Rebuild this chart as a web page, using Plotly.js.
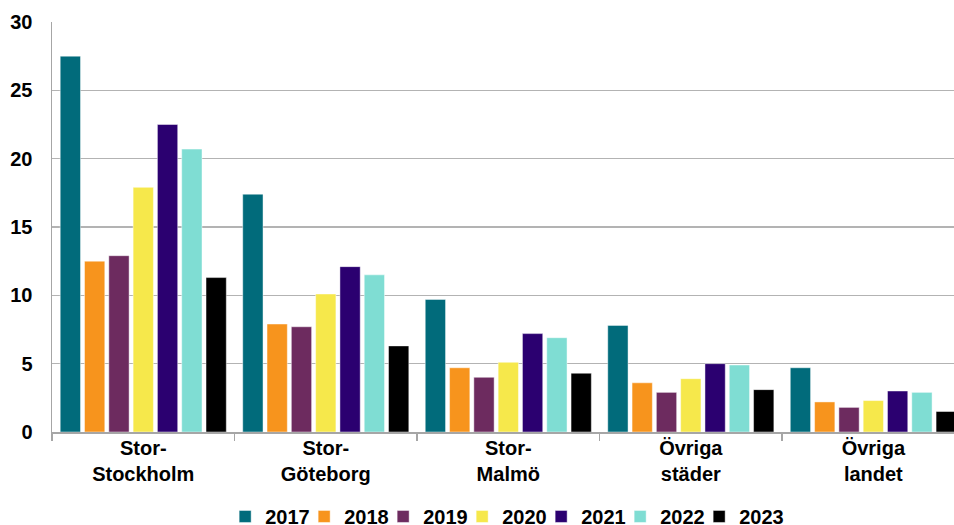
<!DOCTYPE html>
<html>
<head>
<meta charset="utf-8">
<script src="https://cdn.plot.ly/plotly-3.0.1.min.js"></script>
<style>
  html, body { margin: 0; padding: 0; background: #fff; }
  #chart { width: 954px; height: 525px; }
</style>
</head>
<body>
<div id="chart"></div>
<script>
// Regions (two-line category labels)
const regions = ["Stor-<br>Stockholm", "Stor-<br>Göteborg", "Stor-<br>Malmö", "Övriga<br>städer", "Övriga<br>landet"];

// Yearly values per region
const years = ["2017", "2018", "2019", "2020", "2021", "2022", "2023"];
const v2017 = [27.5, 17.4, 9.7, 7.8, 4.7];
const v2018 = [12.5, 7.9, 4.7, 3.6, 2.2];
const v2019 = [12.9, 7.7, 4.0, 2.9, 1.8];
const v2020 = [17.9, 10.1, 5.1, 3.9, 2.3];
const v2021 = [22.5, 12.1, 7.2, 5.0, 3.0];
const v2022 = [20.7, 11.5, 6.9, 4.9, 2.9];
const v2023 = [11.3, 6.3, 4.3, 3.1, 1.5];

const series = [v2017, v2018, v2019, v2020, v2021, v2022, v2023];
const colors = ["#016b7b", "#f7941d", "#6d2b5f", "#f6e84b", "#2b0070", "#7fddd3", "#000000"];

const font = "Liberation Sans, Arial, sans-serif";

const traces = series.map((vals, i) => ({
  type: "bar",
  name: years[i],
  x: regions,
  y: vals,
  marker: { color: colors[i], line: { width: 1, color: "rgba(255,255,255,0.45)" } },
  hoverinfo: "x+y+name"
}));

// Blank spacer entry so the compact legend keeps room for its last label
traces.push({
  type: "scatter",
  mode: "markers",
  name: " ",
  x: [null],
  y: [null],
  marker: { opacity: 0, color: "rgba(0,0,0,0)" },
  hoverinfo: "skip"
});

const layout = {
  width: 954,
  height: 525,
  margin: { l: 52, r: 0, t: 22, b: 93, autoexpand: false },
  paper_bgcolor: "#ffffff",
  plot_bgcolor: "#ffffff",
  barmode: "group",
  bargap: 0.068,
  bargroupgap: 0.165,
  font: { family: font, size: 20, color: "#000000" },
  xaxis: {
    type: "category",
    range: [-0.5, 4.442],
    showgrid: false,
    showline: true,
    linecolor: "#a6a6a6",
    linewidth: 1.5,
    ticks: "outside",
    tickson: "boundaries",
    ticklen: 7,
    tickcolor: "#a6a6a6",
    tickwidth: 1.5,
    ticklabelstandoff: -3,
    tickfont: { family: font, size: 20, color: "#000000", weight: "bold" },
    fixedrange: true
  },
  yaxis: {
    range: [0, 30],
    dtick: 5,
    showgrid: true,
    gridcolor: "#b3b3b3",
    gridwidth: 1.5,
    zeroline: false,
    showline: true,
    linecolor: "#a6a6a6",
    linewidth: 1.5,
    ticks: "",
    ticklabelstandoff: 14,
    tickfont: { family: font, size: 20, color: "#000000", weight: "bold" },
    fixedrange: true
  },
  showlegend: true,
  legend: {
    orientation: "h",
    xref: "container",
    x: 0.236,
    xanchor: "left",
    yref: "paper",
    y: -0.206,
    yanchor: "middle",
    entrywidth: 34,
    entrywidthmode: "pixels",
    font: { family: font, size: 20, color: "#000000", weight: "bold" },
    itemclick: false,
    itemdoubleclick: false,
    traceorder: "normal"
  }
};

Plotly.newPlot("chart", traces, layout, { displayModeBar: false, staticPlot: true });
</script>
</body>
</html>
